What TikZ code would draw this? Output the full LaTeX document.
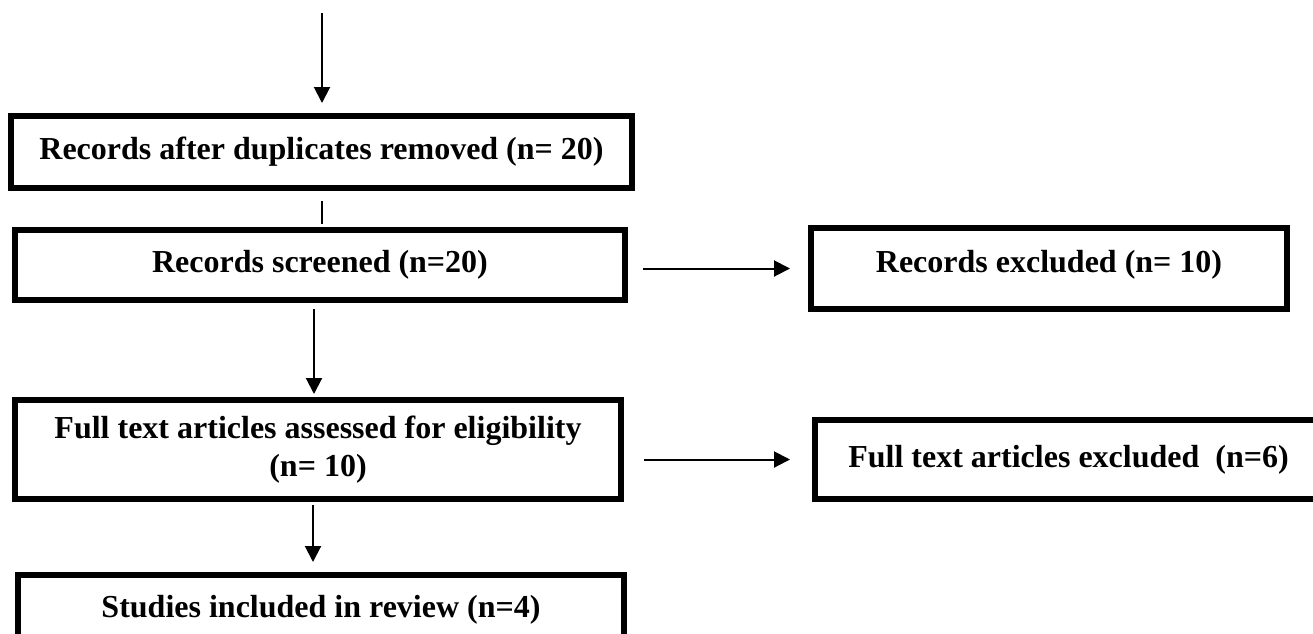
\documentclass[tikz,border=0pt]{standalone}
\usepackage{fontspec}
\setmainfont{Liberation Serif}
\usetikzlibrary{arrows.meta}
\begin{document}
\begin{tikzpicture}[x=1pt,y=-1pt,
  box/.style={draw, line width=6pt, inner sep=0pt, align=center,
    font=\bfseries\fontsize{32}{38}\selectfont},
  arr/.style={line width=2pt, -{Triangle[width=16pt,length=16pt]}},
  plain/.style={line width=2pt}]
\useasboundingbox[fill=white] (0,0) rectangle (1313,633);
\clip (0,0) rectangle (1313,633);
\node[box, minimum width=621pt, minimum height=72pt] (dup) at (321.5,152) {Records after duplicates removed (n= 20)};
\node[box, minimum width=610pt, minimum height=70pt] (scr) at (320,265) {Records screened (n=20)};
\node[box, minimum width=476pt, minimum height=81pt, text depth=14pt] (rex) at (1049,268.5) {Records excluded (n= 10)};
\node[box, minimum width=606pt, minimum height=99pt] (ft) at (318,449.5) {Full text articles assessed for eligibility\\(n= 10)};
\node[box, minimum width=507pt, minimum height=79pt] (fex) at (1068.5,459.5) {Full text articles excluded~~(n=6)};
\node[box, minimum width=606pt, minimum height=70pt] (stu) at (321,610) {Studies included in review (n=4)};
\coordinate (src) at (322,13);
\draw[arr, shorten >=10pt] (src) -- (src |- dup.north);
\draw[plain, shorten <=10pt, shorten >=3pt] (dup.south) -- (dup.south |- scr.north);
\draw[arr, shorten <=6pt, shorten >=3pt] ([xshift=-6pt]scr.south) -- ([xshift=-6pt]scr.south |- ft.north);
\draw[arr, shorten <=3pt, shorten >=10pt] ([xshift=-5pt]ft.south) -- ([xshift=-5pt]ft.south |- stu.north);
\draw[arr, shorten <=15pt, shorten >=18pt] (scr.east |- rex.west) -- (rex.west);
\draw[arr, shorten <=20pt, shorten >=22pt] (ft.east |- fex.west) -- (fex.west);
\end{tikzpicture}
\end{document}
